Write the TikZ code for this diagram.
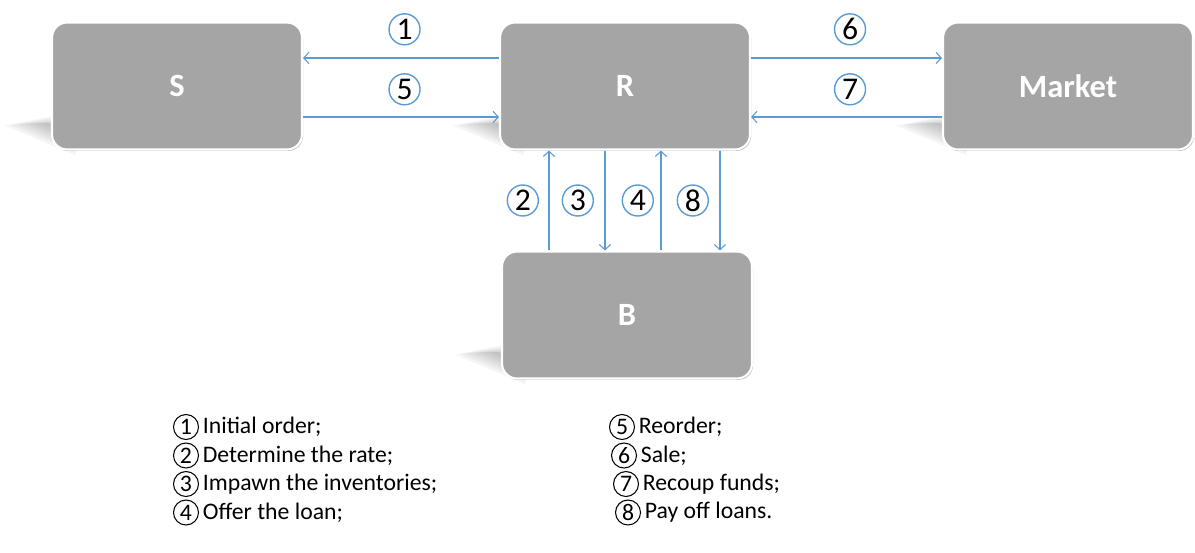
\documentclass[tikz,border=0pt]{standalone}
\usepackage{fontspec}
\setmainfont{Carlito}
\usetikzlibrary{arrows.meta,positioning,shadows,backgrounds}
\definecolor{boxgray}{HTML}{A5A5A5}
\definecolor{flowblue}{HTML}{5B9BD5}

\begin{document}
\begin{tikzpicture}[x=0.02cm,y=-0.02cm,
    party/.style={rectangle, rounded corners=0.3cm, fill=boxgray, draw=white, line width=1.2pt,
      minimum width=5cm, minimum height=2.54cm, text=white,
      font=\fontsize{18.5}{22}\selectfont\bfseries,
      drop shadow={shadow xshift=0.6pt, shadow yshift=-0.8pt, opacity=0.3, fill=black}},
    flow/.style={draw=flowblue, line width=0.6pt, -{Straight Barb[length=3pt,width=6.5pt]}},
    num/.style={circle, draw, line width=0.8pt, inner sep=0pt, minimum size=0.62cm,
      font=\fontsize{18}{20}\selectfont},
    keynum/.style={circle, draw, line width=0.6pt, inner sep=0pt, minimum size=0.5cm,
      font=\fontsize{13.5}{16}\selectfont},
    keytext/.style={anchor=west, inner sep=0pt, font=\fontsize{13.5}{16}\selectfont}]
    \useasboundingbox (0,0) rectangle (1195,552);

    % parties
    \node[party] (S) at (177,86) {S};
    \node[party] (R) at (625,86) {R};
    \node[party] (Market) at (1068,86) {Market};
    \node[party] (B) at (627,315) {B};

    % flat shadows, built up in faint layers
    \begin{scope}[on background layer]
      \foreach \b in {S,R,Market,B}
        \foreach \k in {0,...,6}
          \fill[black, opacity=0.04]
            ([shift={(-46+6*\k,-25-0.5*\k)}]\b.south west) -- ([shift={(15,-37+2*\k)}]\b.south west)
            -- ([shift={(25,5-3*\k)}]\b.south west) -- cycle;
    \end{scope}

    % flows
    \draw[flow] ([yshift=0.56cm]R.west) -- ([yshift=0.56cm]S.east) node[num, midway, above=0.25cm, xshift=2pt] (n1) {1};
    \draw[flow] ([yshift=-0.62cm]S.east) -- ([yshift=-0.62cm]R.west) node[num, midway, above=0.23cm, xshift=2pt] (n5) {5};
    \draw[flow] ([yshift=0.56cm]R.east) -- ([yshift=0.56cm]Market.west) node[num, midway, above=0.25cm, xshift=2pt] (n6) {6};
    \draw[flow] ([yshift=-0.62cm]Market.west) -- ([yshift=-0.62cm]R.east) node[num, midway, above=0.23cm, xshift=2pt] (n7) {7};
    \draw[flow] ([xshift=-1.52cm]R.south |- B.north) -- ([xshift=-1.52cm]R.south) node[num, midway, left=0.2cm] (n2) {2};
    \draw[flow] ([xshift=-0.4cm]R.south) -- ([xshift=-0.4cm]R.south |- B.north) node[num, midway, left=0.22cm] (n3) {3};
    \draw[flow] ([xshift=0.72cm]R.south |- B.north) -- ([xshift=0.72cm]R.south) node[num, midway, left=0.14cm] (n4) {4};
    \draw[flow] ([xshift=1.9cm]R.south) -- ([xshift=1.9cm]R.south |- B.north) node[num, midway, left=0.22cm] (n8) {8};

    % key
    \foreach \n/\cx/\txt [count=\i from 0] in {1/186/{Initial order;}, 2/186/{Determine the rate;},
        3/186/{Impawn the inventories;}, 4/186/{Offer the loan;}} {
      \node[keynum] (k\n) at (\cx,{427+28.5*\i}) {\n};
      \node[keytext, right=2pt of k\n] (t\n) {\txt};
    }
    \foreach \n/\cx/\txt [count=\i from 0] in {5/622/{Reorder;}, 6/624/{Sale;},
        7/626/{Recoup funds;}, 8/628/{Pay off loans.}} {
      \node[keynum] (k\n) at (\cx,{427+28.5*\i}) {\n};
      \node[keytext, right=2pt of k\n] (t\n) {\txt};
    }
\end{tikzpicture}
\end{document}
